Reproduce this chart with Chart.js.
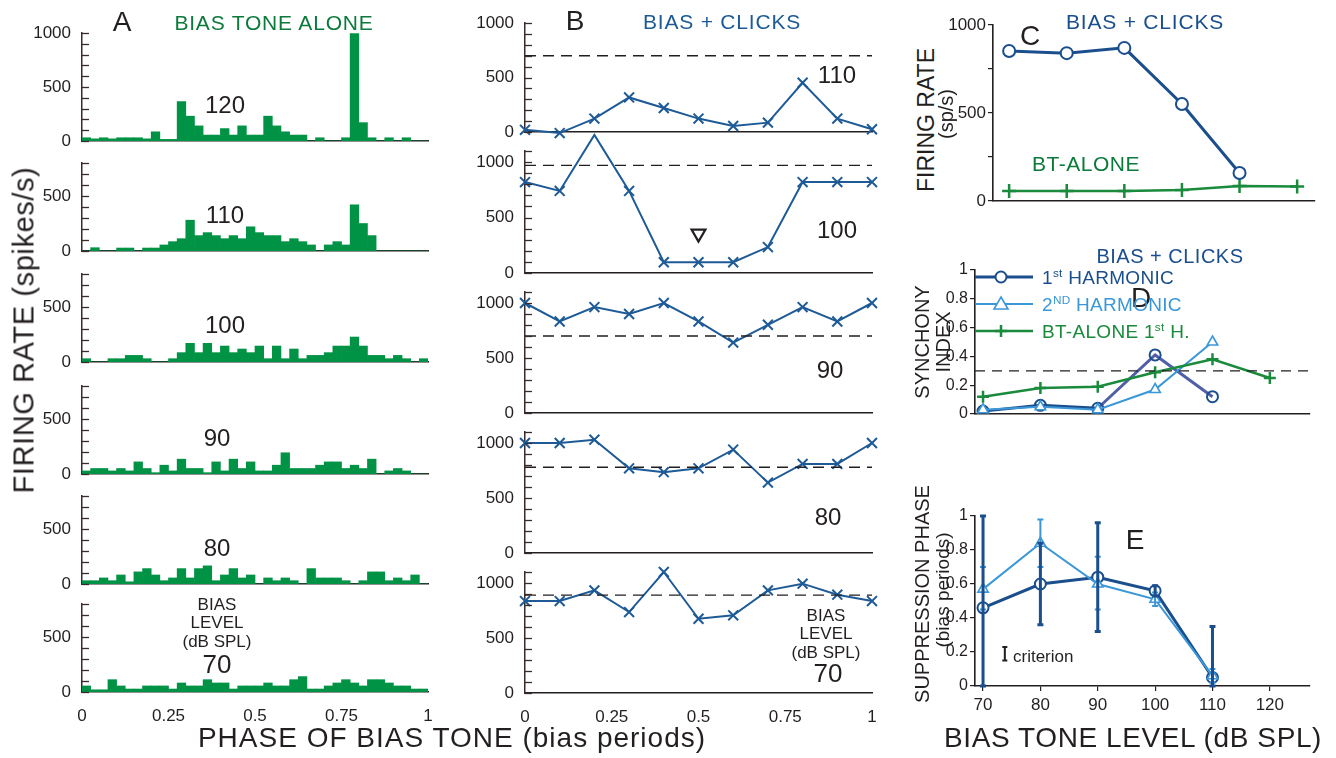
<!DOCTYPE html>
<html>
<head>
<meta charset="utf-8">
<script src="https://cdn.jsdelivr.net/npm/chart.js"></script>
<style>
  body { margin: 0; background: #fff; }
  #fig { position: relative; width: 1336px; height: 758px; overflow: hidden; font-family: 'Liberation Sans', Arial, sans-serif; color: #231f20; }
  #fig canvas { position: absolute; }
  .t { position: absolute; white-space: nowrap; line-height: 1; transform: translate(-50%, -50%); }
  .l { position: absolute; white-space: nowrap; line-height: 1; transform: translate(0, -50%); }
  .v { position: absolute; white-space: nowrap; line-height: 1; transform: translate(-50%, -50%) rotate(-90deg); }
  sup { font-size: 0.62em; vertical-align: 0.55em; line-height: 0; }
</style>
</head>
<body>
<div id="fig"></div>
<script>
// ─── DATA ───────────────────────────────────────────────────────────────
// A: period histograms, bias tone alone, 40 bins over one bias period
var histA120 = [30,20,30,20,30,30,30,20,85,15,15,365,230,140,55,55,115,55,140,55,55,230,140,85,55,55,0,30,0,0,30,995,170,30,0,30,0,30,0,0];
var histA110 = [0,30,0,0,27,27,0,27,27,55,85,112,280,140,167,140,112,140,112,220,167,140,140,85,112,85,55,0,55,85,55,420,250,140,0,0,0,0,0,0];
var histA100 = [30,0,0,30,30,60,60,30,0,0,30,85,170,85,170,85,145,85,118,85,145,30,145,30,118,30,60,60,85,145,145,227,145,60,60,30,60,30,0,30];
var histA90  = [28,50,50,28,50,28,110,50,12,80,28,135,50,50,12,110,28,135,50,110,28,28,80,193,50,50,50,80,110,110,50,80,50,135,0,28,50,28,0,0];
var histA80  = [30,30,55,30,82,20,110,140,82,30,55,140,55,140,165,30,82,140,55,82,0,55,30,55,30,0,140,55,55,55,30,0,30,110,110,30,55,30,82,0];
var histA70  = [55,20,20,112,55,27,27,55,55,55,27,82,55,55,112,82,82,27,55,55,55,82,55,55,112,140,27,27,55,82,112,82,55,112,112,82,55,55,27,27];
var phaseTicks = [0, 0.25, 0.5, 0.75, 1];

// B: bias + clicks, rate vs click phase
var clickPhase = [0, 0.1, 0.2, 0.3, 0.4, 0.5, 0.6, 0.7, 0.8, 0.9, 1];
var clicksB110 = [20,-10,123,317,220,123,55,86,452,123,25];
var clicksB100 = [820,740,1245,740,97,97,97,234,820,820,820];
var clicksB90  = [1000,832,963,900,1000,832,640,802,963,832,1000];
var clicksB80  = [1000,1000,1030,770,735,770,940,640,810,810,1000];
var clicksB70  = [836,836,933,736,1100,675,706,933,994,894,836];
var refRateB   = [700, 970, 700, 780, 890];   // dashed lines, 110..70 dB
var triangleB100 = {x: 0.5, y: 355};

// C, D, E: against bias level
var levels = [70, 80, 90, 100, 110, 120];
var rateClicks = [852, 840, 870, 551, 159];
var rateAlone  = [57, 57, 57, 63, 85, 82];
var sync1st   = [0.02, 0.06, 0.04, 0.41, 0.12];
var sync2nd   = [0.03, 0.05, 0.03, 0.17, 0.50];
var syncAlone = [0.12, 0.18, 0.19, 0.29, 0.38, 0.25];
var syncCriterion = 0.3;
var phase1st   = [0.46, 0.60, 0.64, 0.56, 0.05];
var phase1stLo = [0.00, 0.36, 0.32, 0.53, 0.00];
var phase1stHi = [1.00, 0.84, 0.96, 0.59, 0.35];
var phase2nd   = [0.57, 0.84, 0.60, 0.51, 0.06];
var phase2ndLo = [0.45, 0.70, 0.45, 0.47, 0.02];
var phase2ndHi = [0.70, 0.98, 0.76, 0.55, 0.10];
var criterionBar = {x: 73.8, y: 0.19, half: 0.04};

// ─── STYLE ──────────────────────────────────────────────────────────────
var INK = '#231f20';
var AXIS_BROWN = '#3a2b2b';
var GREEN_BAR = '#009245';
var GREEN_TXT = '#0b7a3b';
var GREEN_LINE = '#1a8a3c';
var BLUE_B = '#1e5a96';
var BLUE_DARK = '#1a4e8c';
var BLUE_LIGHT = '#3b97d8';
var PURPLE_MIX = '#4f5fa8';
var FONT = "'Liberation Sans', Arial, sans-serif";

Chart.defaults.font.family = FONT;
Chart.defaults.color = INK;

var fig = document.getElementById('fig');

function txt(html, x, y, size, opts) {
  opts = opts || {};
  var d = document.createElement('div');
  d.className = opts.cls || 't';
  d.innerHTML = html;
  d.style.left = x + 'px';
  d.style.top = y + 'px';
  d.style.fontSize = size + 'px';
  if (opts.color) d.style.color = opts.color;
  if (opts.ls) d.style.letterSpacing = opts.ls + 'px';
  if (opts.lh) { d.style.lineHeight = opts.lh; d.style.textAlign = 'center'; }
  fig.appendChild(d);
  return d;
}

// chart whose plot area lands exactly on `area` (page pixels)
function mkChart(area, cfg, pad) {
  pad = pad || {};
  var pl = pad.l != null ? pad.l : 60, pt = pad.t != null ? pad.t : 14;
  var pr = pad.r != null ? pad.r : 10, pb = pad.b != null ? pad.b : 20;
  var w = area.r - area.l + pl + pr, h = area.b - area.t + pt + pb;
  var cv = document.createElement('canvas');
  cv.width = w; cv.height = h;
  cv.style.left = (area.l - pl) + 'px'; cv.style.top = (area.t - pt) + 'px';
  cv.style.width = w + 'px'; cv.style.height = h + 'px';
  fig.appendChild(cv);
  var o = cfg.options = cfg.options || {};
  o.responsive = false; o.animation = false; o.devicePixelRatio = 1;
  o.layout = {autoPadding: false, padding: {left: 0, top: pt, right: pr, bottom: 0}};
  o.plugins = Object.assign({legend: {display: false}, tooltip: {enabled: false}}, o.plugins || {});
  o.scales.x.afterFit = function(s) { s.height = pb; };
  o.scales.y.afterFit = function(s) { s.width = pl; };
  return new Chart(cv, cfg);
}

// small tick marks pointing into the plot
var inTicks = {
  id: 'inTicks',
  afterDraw: function(chart) {
    var y = chart.scales.y, a = chart.chartArea, ctx = chart.ctx;
    ctx.save();
    ctx.strokeStyle = AXIS_BROWN; ctx.lineWidth = 1.3;
    y.ticks.forEach(function(t) {
      var py = Math.round(y.getPixelForValue(t.value)) + 0.5;
      ctx.beginPath(); ctx.moveTo(a.left, py); ctx.lineTo(a.left + 7, py); ctx.stroke();
    });
    ctx.restore();
  }
};

function rateAxis(max) {
  return {
    type: 'linear', min: 0, max: max,
    afterBuildTicks: function(s) { var t = []; for (var v = 0; v <= max; v += 100) t.push({value: v}); s.ticks = t; },
    ticks: {autoSkip: false, padding: 3, color: INK, font: {size: 17}, callback: function(v) { return v % 500 === 0 ? String(v) : ''; }},
    grid: {display: false},
    border: {display: true, color: AXIS_BROWN, width: 1.5}
  };
}

function phaseAxis(showLabels) {
  return {
    type: 'linear', min: 0, max: 1, offset: false,
    afterBuildTicks: function(s) { s.ticks = phaseTicks.map(function(v) { return {value: v}; }); },
    ticks: {display: showLabels, autoSkip: false, maxRotation: 0, padding: 6, color: INK, font: {size: 17},
            callback: function(v) { return String(v); }},
    grid: {display: false},
    border: {display: true, color: INK, width: 1.6}
  };
}

// ─── A: histograms ──────────────────────────────────────────────────────
var histA = [
  {data: histA120, max: 1000, t: 33,  b: 141},
  {data: histA110, max: 800,  t: 163, b: 251},
  {data: histA100, max: 800,  t: 274, b: 362},
  {data: histA90,  max: 800,  t: 386, b: 474},
  {data: histA80,  max: 800,  t: 496, b: 584},
  {data: histA70,  max: 800,  t: 604, b: 692}
];
histA.forEach(function(p, i) {
  var last = i === histA.length - 1;
  var pts = p.data.map(function(v, k) { return {x: (k + 0.5) / p.data.length, y: v}; });
  mkChart({l: 82, r: 428, t: p.t, b: p.b}, {
    type: 'bar',
    data: {datasets: [{data: pts, backgroundColor: GREEN_BAR, borderWidth: 0, barPercentage: 1, categoryPercentage: 1}]},
    options: {scales: {x: phaseAxis(last), y: rateAxis(p.max)}},
    plugins: [inTicks]
  }, {l: 60, t: 14, r: 14, b: last ? 32 : 20});
});

// ─── B: bias + clicks ───────────────────────────────────────────────────
var clicksB = [
  {data: clicksB110, max: 1000, t: 23,  b: 132},
  {data: clicksB100, max: 1100, t: 151, b: 273},
  {data: clicksB90,  max: 1100, t: 292, b: 413},
  {data: clicksB80,  max: 1100, t: 432, b: 553},
  {data: clicksB70,  max: 1100, t: 572, b: 693}
];
clicksB.forEach(function(p, i) {
  var last = i === clicksB.length - 1;
  var ds = [
    {type: 'line', data: [{x: 0, y: refRateB[i]}, {x: 1, y: refRateB[i]}], borderColor: INK, borderWidth: 1.4,
     borderDash: [11, 7], pointRadius: 0},
    {type: 'line', data: clickPhase.map(function(x, k) { return {x: x, y: p.data[k]}; }), clip: false,
     borderColor: BLUE_B, borderWidth: 2, pointStyle: 'crossRot', pointRadius: 7, pointBorderWidth: 2,
     pointBorderColor: BLUE_B, pointBackgroundColor: BLUE_B}
  ];
  if (i === 1) {
    ds.push({type: 'scatter', data: [triangleB100], pointStyle: 'triangle', rotation: 180, pointRadius: 8,
             pointBorderWidth: 2.2, pointBorderColor: INK, pointBackgroundColor: 'rgba(0,0,0,0)'});
  }
  mkChart({l: 525, r: 872, t: p.t, b: p.b}, {
    type: 'line',
    data: {datasets: ds},
    options: {scales: {x: phaseAxis(last), y: rateAxis(p.max)}},
    plugins: [inTicks]
  }, {l: 60, t: 26, r: 14, b: last ? 32 : 20});
});

// ─── C, D, E: level functions ───────────────────────────────────────────
function levelAxis(min, max, showLabels) {
  return {
    type: 'linear', min: min, max: max,
    afterBuildTicks: function(s) { s.ticks = levels.map(function(v) { return {value: v}; }); },
    ticks: {display: showLabels, autoSkip: false, maxRotation: 0, padding: 4, color: INK, font: {size: 17},
            callback: function(v) { return String(v); }},
    grid: {drawOnChartArea: false, drawTicks: showLabels, tickLength: 5, color: INK, lineWidth: 1.2},
    border: {display: true, color: INK, width: 1.6}
  };
}
function valAxis(max, step, labelFn, size) {
  return {
    type: 'linear', min: 0, max: max,
    afterBuildTicks: function(s) { var t = []; for (var v = 0; v <= max + 1e-9; v += step) t.push({value: Math.round(v * 100) / 100}); s.ticks = t; },
    ticks: {autoSkip: false, padding: 2, color: INK, font: {size: size || 17}, callback: labelFn},
    grid: {drawOnChartArea: false, drawTicks: true, tickLength: 5, color: INK, lineWidth: 1.2},
    border: {display: true, color: INK, width: 1.6}
  };
}
function xy(ys) { return ys.map(function(v, k) { return {x: levels[k], y: v}; }); }

// C
mkChart({l: 993, r: 1315, t: 25, b: 201}, {
  type: 'line',
  data: {datasets: [
    {data: xy(rateClicks), borderColor: BLUE_DARK, borderWidth: 3, pointStyle: 'circle', pointRadius: 6,
     pointBorderWidth: 2, pointBorderColor: BLUE_DARK, pointBackgroundColor: '#fff'},
    {data: xy(rateAlone), borderColor: GREEN_LINE, borderWidth: 2.5, pointStyle: 'cross', pointRadius: 7,
     pointBorderWidth: 2.5, pointBorderColor: GREEN_LINE}
  ]},
  options: {scales: {x: levelAxis(67.2, 123.1, false),
                     y: valAxis(1000, 250, function(v) { return v % 500 === 0 ? String(v) : ''; })}}
}, {l: 48, t: 14, r: 10, b: 20});

// D
var DX_MIN = 68.6, DX_MAX = 127;
mkChart({l: 975, r: 1310, t: 270, b: 414}, {
  type: 'line',
  data: {datasets: [
    {data: [{x: DX_MIN, y: syncCriterion}, {x: DX_MAX, y: syncCriterion}], borderColor: INK, borderWidth: 1.3,
     borderDash: [10, 7], pointRadius: 0},
    {data: xy(syncAlone), borderColor: GREEN_LINE, borderWidth: 2.5, pointStyle: 'cross', pointRadius: 6,
     pointBorderWidth: 2.5, pointBorderColor: GREEN_LINE},
    {data: xy(sync2nd), borderColor: BLUE_LIGHT, borderWidth: 2, pointStyle: 'triangle', pointRadius: 6,
     pointBorderWidth: 1.6, pointBorderColor: BLUE_LIGHT, pointBackgroundColor: '#fff'},
    {data: xy(sync1st), borderColor: BLUE_DARK, borderWidth: 3, pointStyle: 'circle', pointRadius: 5.5,
     pointBorderWidth: 2, pointBorderColor: BLUE_DARK, pointBackgroundColor: 'rgba(255,255,255,0)',
     segment: {borderColor: function(c) { return c.p0.parsed.x >= 90 ? PURPLE_MIX : BLUE_DARK; }}}
  ]},
  options: {scales: {x: levelAxis(DX_MIN, DX_MAX, false),
                     y: valAxis(1, 0.2, function(v) { return String(v); }, 16)}}
}, {l: 48, t: 14, r: 10, b: 20});

// E, with error bars drawn through the chart's own scales
var errBars = {
  id: 'errBars',
  afterDatasetsDraw: function(chart) {
    var xs = chart.scales.x, ys = chart.scales.y, ctx = chart.ctx;
    function bar(x, lo, hi, color, w, cap) {
      var px = xs.getPixelForValue(x), p1 = ys.getPixelForValue(lo), p2 = ys.getPixelForValue(hi);
      ctx.strokeStyle = color; ctx.lineWidth = w;
      ctx.beginPath(); ctx.moveTo(px, p1); ctx.lineTo(px, p2);
      ctx.moveTo(px - cap, p1); ctx.lineTo(px + cap, p1);
      ctx.moveTo(px - cap, p2); ctx.lineTo(px + cap, p2);
      ctx.stroke();
    }
    ctx.save();
    phase2nd.forEach(function(v, k) { bar(levels[k], phase2ndLo[k], phase2ndHi[k], BLUE_LIGHT, 2, 3); });
    phase1st.forEach(function(v, k) { bar(levels[k], phase1stLo[k], phase1stHi[k], BLUE_DARK, 3, 3); });
    bar(criterionBar.x, criterionBar.y - criterionBar.half, criterionBar.y + criterionBar.half, INK, 2, 2.5);
    ctx.restore();
  }
};
mkChart({l: 975, r: 1310, t: 516, b: 686}, {
  type: 'line',
  data: {datasets: [
    {data: xy(phase2nd), borderColor: BLUE_LIGHT, borderWidth: 2, pointStyle: 'triangle', pointRadius: 6,
     pointBorderWidth: 1.6, pointBorderColor: BLUE_LIGHT, pointBackgroundColor: '#fff'},
    {data: xy(phase1st), borderColor: BLUE_DARK, borderWidth: 3, pointStyle: 'circle', pointRadius: 5.5,
     pointBorderWidth: 2, pointBorderColor: BLUE_DARK, pointBackgroundColor: '#fff'}
  ]},
  options: {scales: {x: levelAxis(DX_MIN, DX_MAX, true),
                     y: valAxis(1, 0.2, function(v) { return String(v); }, 16)}},
  plugins: [errBars]
}, {l: 48, t: 14, r: 10, b: 34});

// ─── TEXT ───────────────────────────────────────────────────────────────
// panel A
txt('A', 122, 22, 28);
txt('BIAS TONE ALONE', 274, 22, 21, {color: GREEN_TXT, ls: 0.8});
txt('120', 225, 105, 24);
txt('110', 225, 215, 24);
txt('100', 225, 325, 24);
txt('90', 217, 438, 24);
txt('80', 217, 548, 24);
txt('BIAS<br>LEVEL<br>(dB SPL)', 217, 624, 17, {lh: '1.08'});
txt('70', 217, 664, 26);
txt('FIRING RATE (spikes/s)', 24, 330, 29, {cls: 'v', ls: 0.6});
txt('PHASE OF BIAS TONE (bias periods)', 452, 738, 28, {ls: 1});

// panel B
txt('B', 575, 21, 28);
txt('BIAS + CLICKS', 722, 21, 21, {color: BLUE_B, ls: 0.8});
txt('110', 837, 75, 24);
txt('100', 837, 230, 24);
txt('90', 830, 370, 24);
txt('80', 828, 517, 24);
txt('BIAS<br>LEVEL<br>(dB SPL)', 826, 635, 17, {lh: '1.08'});
txt('70', 828, 673, 26);

// panel C
txt('C', 1030, 36, 28);
txt('BIAS + CLICKS', 1145, 21, 21, {color: BLUE_DARK, ls: 0.8});
txt('BT-ALONE', 1086, 163, 21, {color: GREEN_TXT, ls: 0.5});
txt('FIRING RATE', 926, 120, 23, {cls: 'v'});
txt('(sp/s)', 946, 114, 20, {cls: 'v'});

// panel D
txt('D', 1141, 298, 28);
txt('BIAS + CLICKS', 1170, 256, 20, {color: BLUE_DARK, ls: 0.5});
function legendRow(y, color, marker, width, label) {
  var s = document.createElement('div');
  s.style.cssText = 'position:absolute;left:975px;top:' + (y - 10) + 'px;width:58px;height:20px';
  s.innerHTML = '<svg width="58" height="20"><line x1="0" y1="10" x2="58" y2="10" stroke="' + color +
    '" stroke-width="' + width + '"/>' + marker + '</svg>';
  fig.appendChild(s);
  txt(label, 1042, y, 19, {cls: 'l', color: color, ls: 0.3});
}
legendRow(277, BLUE_DARK, '<circle cx="26" cy="10" r="5.5" fill="#fff" stroke="' + BLUE_DARK + '" stroke-width="2"/>', 3, '1<sup>st</sup> HARMONIC');
legendRow(304, BLUE_LIGHT, '<polygon points="26,3 33,15 19,15" fill="#fff" stroke="' + BLUE_LIGHT + '" stroke-width="1.6"/>', 2, '2<sup>ND</sup> HARMONIC');
legendRow(331, GREEN_LINE, '<path d="M20 10 H32 M26 4 V16" stroke="' + GREEN_LINE + '" stroke-width="2.5"/>', 2.5, 'BT-ALONE 1<sup>st</sup> H.');
txt('SYNCHONY', 922, 342, 20, {cls: 'v'});
txt('INDEX', 943, 342, 20, {cls: 'v'});

// panel E
txt('E', 1135, 540, 28);
txt('criterion', 1013, 656, 17, {cls: 'l'});
txt('SUPPRESSION PHASE', 922, 594, 20, {cls: 'v'});
txt('(bias periods)', 942, 590, 19, {cls: 'v'});
txt('BIAS TONE LEVEL (dB SPL)', 1133, 738, 28, {ls: 0.6});
</script>
</body>
</html>
